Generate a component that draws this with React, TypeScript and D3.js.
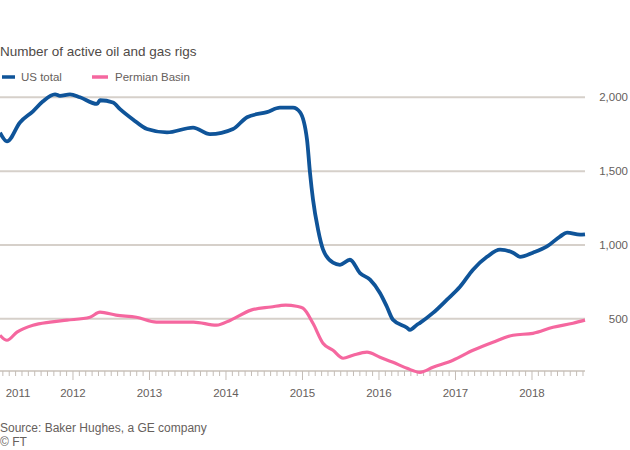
import React from "react";
import * as d3 from "d3";

// Decimal-year dates and values
const usDates = [2011.046, 2011.137, 2011.307, 2011.477, 2011.608, 2011.765, 2011.83, 2011.961, 2012.092, 2012.314, 2012.353, 2012.523, 2012.615, 2012.784, 2012.968, 2013.229, 2013.569, 2013.791, 2014.092, 2014.275, 2014.536, 2014.706, 2014.876, 2014.967, 2015.059, 2015.098, 2015.137, 2015.203, 2015.268, 2015.399, 2015.49, 2015.621, 2015.752, 2015.883, 2016.013, 2016.105, 2016.183, 2016.366, 2016.405, 2016.497, 2016.536, 2016.706, 2016.889, 2017.059, 2017.229, 2017.412, 2017.582, 2017.752, 2017.843, 2018.013, 2018.196, 2018.366, 2018.458, 2018.628, 2018.693];
const usValues = [1760, 1701, 1830, 1905, 1973, 2020, 2010, 2020, 2000, 1955, 1980, 1965, 1920, 1850, 1785, 1762, 1795, 1750, 1785, 1865, 1900, 1930, 1930, 1900, 1715, 1490, 1310, 1105, 970, 880, 866, 900, 810, 765, 675, 580, 494, 440, 425, 460, 473, 540, 630, 717, 833, 920, 968, 948, 920, 948, 990, 1057, 1084, 1070, 1072];

const permianDates = [2011.046, 2011.137, 2011.268, 2011.477, 2011.699, 2011.921, 2012.222, 2012.353, 2012.562, 2012.829, 2013.091, 2013.444, 2013.575, 2013.876, 2014.059, 2014.327, 2014.588, 2014.78, 2014.922, 2015.006, 2015.137, 2015.268, 2015.399, 2015.53, 2015.66, 2015.843, 2016.013, 2016.183, 2016.366, 2016.536, 2016.706, 2016.967, 2017.229, 2017.490, 2017.752, 2018.013, 2018.275, 2018.536, 2018.693];
const permianValues = [389, 355, 410, 457, 478, 491, 511, 545, 525, 511, 478, 478, 478, 457, 491, 559, 580, 593, 585, 572, 470, 335, 287, 233, 253, 274, 240, 206, 165, 138, 172, 220, 287, 342, 389, 402, 443, 470, 491];

const yTicks = [500, 1000, 1500, 2000];
const yearLabels = [2011, 2012, 2013, 2014, 2015, 2016, 2017, 2018];
const legendLabels = ["US total", "Permian Basin"];

const BLUE = "#0f5499";
const PINK = "#f5679f";
const TEXT = "#66605c";
const FONT = "'Liberation Sans', Arial, sans-serif";

export default function App() {
  const W = 630;
  const H = 450;
  const plotRight = 585;
  const baseY = 371;

  const x = d3.scaleLinear().domain([2011.046, 2018.693]).range([0, plotRight]);
  const y = d3.scaleLinear().domain([140, 2000]).range([372, 97.3]);

  const line = d3
    .line<[number, number]>()
    .x((d) => x(d[0]))
    .y((d) => y(d[1]))
    .curve(d3.curveMonotoneX);

  const usPath = line(usDates.map((d, i) => [d, usValues[i]]) as [number, number][]) || "";
  const pmPath = line(permianDates.map((d, i) => [d, permianValues[i]]) as [number, number][]) || "";

  const fmt = d3.format(",");

  // monthly ticks
  const monthTicks: number[] = [];
  for (let yr = 2011; yr <= 2018; yr++) {
    for (let m = 0; m < 12; m++) {
      const t = yr + m / 12;
      if (t >= x.domain()[0] && t <= x.domain()[1]) monthTicks.push(t);
    }
  }

  return (
    <svg
      width={W}
      height={H}
      style={{ position: "absolute", left: 0, top: 0, background: "#ffffff" }}
      fontFamily={FONT}
    >
      <text x={0} y={56} fontSize={13.5} fill="#4f4a47">
        Number of active oil and gas rigs
      </text>

      {/* legend */}
      <line x1={2} x2={15} y1={77} y2={77} stroke={BLUE} strokeWidth={3.5} />
      <text x={21} y={81} fontSize={11.5} fill={TEXT}>
        {legendLabels[0]}
      </text>
      <line x1={92} x2={108} y1={77} y2={77} stroke={PINK} strokeWidth={3.5} />
      <text x={115} y={81} fontSize={11.5} fill={TEXT}>
        {legendLabels[1]}
      </text>

      {/* gridlines */}
      {yTicks.map((t) => (
        <g key={t}>
          <line x1={0} x2={plotRight} y1={y(t)} y2={y(t)} stroke="#d6d0ca" strokeWidth={2} />
          <text x={628} y={y(t) + 4} fontSize={11.5} fill={TEXT} textAnchor="end">
            {fmt(t)}
          </text>
        </g>
      ))}

      {/* x axis */}
      <line x1={0} x2={plotRight} y1={baseY} y2={baseY} stroke="#d6d0ca" strokeWidth={2} />
      {monthTicks.map((t) => {
        const isYear = Math.abs(t - Math.round(t)) < 1e-6;
        return (
          <line
            key={t}
            x1={x(t)}
            x2={x(t)}
            y1={baseY}
            y2={baseY + (isYear ? 9 : 5)}
            stroke="#c4bdb7"
            strokeWidth={1}
          />
        );
      })}
      {yearLabels.map((yr) => {
        const cx = Math.max(x(yr), 18);
        return (
          <text key={yr} x={cx} y={397} fontSize={11.5} fill={TEXT} textAnchor="middle">
            {yr}
          </text>
        );
      })}

      {/* series */}
      <path d={pmPath} fill="none" stroke={PINK} strokeWidth={3.2} strokeLinejoin="round" />
      <path d={usPath} fill="none" stroke={BLUE} strokeWidth={3.8} strokeLinejoin="round" />

      <text x={0} y={432} fontSize={12} fill={TEXT}>
        Source: Baker Hughes, a GE company
      </text>
      <text x={0} y={446} fontSize={12} fill={TEXT}>
        © FT
      </text>
    </svg>
  );
}
